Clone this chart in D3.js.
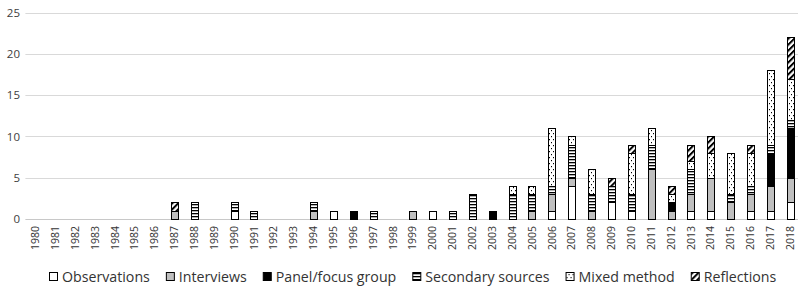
<!DOCTYPE html>
<html>
<head>
<meta charset="utf-8">
<script src="https://cdn.jsdelivr.net/npm/d3@7"></script>
<style>
  html, body { margin: 0; padding: 0; background: #fff; }
  svg { display: block; font-family: "Open Sans", sans-serif; }
</style>
</head>
<body>
<svg id="chart" width="798" height="289"></svg>
<script>
const years = ["1980","1981","1982","1983","1984","1985","1986","1987","1988","1989",
  "1990","1991","1992","1993","1994","1995","1996","1997","1998","1999",
  "2000","2001","2002","2003","2004","2005","2006","2007","2008","2009",
  "2010","2011","2012","2013","2014","2015","2016","2017","2018"];

const observations = [0,0,0,0,0,0,0,0,0,0, 1,0,0,0,0,1,0,0,0,0, 1,0,0,0,0,0,1,4,0,2, 1,0,0,1,1,0,1,1,2];
const interviews   = [0,0,0,0,0,0,0,1,0,0, 0,0,0,0,1,0,0,0,0,1, 0,0,0,0,0,1,2,1,1,0, 0,6,1,2,4,2,2,3,3];
const panel        = [0,0,0,0,0,0,0,0,0,0, 0,0,0,0,0,0,1,0,0,0, 0,0,0,1,0,0,0,0,0,0, 0,0,1,0,0,0,0,4,6];
const secondary    = [0,0,0,0,0,0,0,0,2,0, 1,1,0,0,1,0,0,1,0,0, 0,1,3,0,3,2,1,4,2,2, 2,3,0,3,0,1,1,1,1];
const mixed        = [0,0,0,0,0,0,0,0,0,0, 0,0,0,0,0,0,0,0,0,0, 0,0,0,0,1,1,7,1,3,0, 5,2,1,1,3,5,4,9,5];
const reflections  = [0,0,0,0,0,0,0,1,0,0, 0,0,0,0,0,0,0,0,0,0, 0,0,0,0,0,0,0,0,0,1, 1,0,1,2,2,0,1,0,5];

const seriesNames = ["Observations", "Interviews", "Panel/focus group", "Secondary sources", "Mixed method", "Reflections"];
const yTicks = [0, 5, 10, 15, 20, 25];

const svg = d3.select("#chart");
const width = 798, height = 289;
const margin = { left: 25.4, top: 12.7 };
const y0 = 219;

const defs = svg.append("defs");

// horizontal lines
const pLines = defs.append("pattern").attr("id", "p-lines")
  .attr("patternUnits", "userSpaceOnUse").attr("width", 8).attr("height", 3);
pLines.append("rect").attr("width", 8).attr("height", 3).attr("fill", "#fff");
pLines.append("rect").attr("y", 0).attr("width", 8).attr("height", 1.3).attr("fill", "#000");

// dots
const pDots = defs.append("pattern").attr("id", "p-dots")
  .attr("patternUnits", "userSpaceOnUse").attr("width", 4).attr("height", 6);
pDots.append("rect").attr("width", 4).attr("height", 6).attr("fill", "#fff");
pDots.append("rect").attr("x", 1).attr("y", 1).attr("width", 1).attr("height", 1.2).attr("fill", "#000");
pDots.append("rect").attr("x", 3).attr("y", 4).attr("width", 1).attr("height", 1.2).attr("fill", "#000");

// wide diagonal
const pDiag = defs.append("pattern").attr("id", "p-diag")
  .attr("patternUnits", "userSpaceOnUse").attr("width", 4.2).attr("height", 4.2)
  .attr("patternTransform", "rotate(45)");
pDiag.append("rect").attr("width", 4.2).attr("height", 4.2).attr("fill", "#fff");
pDiag.append("rect").attr("width", 2).attr("height", 4.2).attr("fill", "#000");

const fills = ["#ffffff", "#bfbfbf", "#000000", "url(#p-lines)", "url(#p-dots)", "url(#p-diag)"];

const rows = years.map((yr, i) => ({
  year: yr,
  "Observations": observations[i],
  "Interviews": interviews[i],
  "Panel/focus group": panel[i],
  "Secondary sources": secondary[i],
  "Mixed method": mixed[i],
  "Reflections": reflections[i]
}));

const x = d3.scaleBand().domain(years).range([margin.left, 800]).paddingInner(0.66).paddingOuter(0.33);
const y = d3.scaleLinear().domain([0, 25]).range([y0, margin.top]);

// gridlines
svg.append("g")
  .selectAll("line")
  .data(yTicks)
  .join("line")
  .attr("x1", margin.left).attr("x2", width)
  .attr("y1", d => Math.round(y(d)) + 0.5).attr("y2", d => Math.round(y(d)) + 0.5)
  .attr("stroke", d => d === 0 ? "#c8c8c8" : "#d9d9d9").attr("stroke-width", 1);

// y labels
svg.append("g")
  .selectAll("text")
  .data(yTicks)
  .join("text")
  .attr("x", 20).attr("y", d => y(d))
  .attr("dy", "0.35em")
  .attr("text-anchor", "end")
  .attr("font-size", 11.5)
  .attr("fill", "#404040")
  .text(d => d);

// x labels
svg.append("g")
  .selectAll("text")
  .data(years)
  .join("text")
  .attr("transform", d => `translate(${x(d) + x.bandwidth() / 2},226) rotate(-90)`)
  .attr("dy", "0.36em")
  .attr("text-anchor", "end")
  .attr("font-size", 10.5)
  .attr("fill", "#333")
  .text(d => d);

// stacked bars
const stack = d3.stack().keys(seriesNames);
const layers = stack(rows);

svg.append("g")
  .selectAll("g")
  .data(layers)
  .join("g")
  .attr("fill", (d, i) => fills[i])
  .selectAll("rect")
  .data(d => d.filter(s => s[1] - s[0] > 0))
  .join("rect")
  .attr("x", d => Math.round(x(d.data.year)) + 0.5)
  .attr("y", d => Math.round(y(d[1])) + 0.5)
  .attr("width", Math.round(x.bandwidth()))
  .attr("height", d => Math.round(y(d[0])) - Math.round(y(d[1])))
  .attr("stroke", "#000")
  .attr("stroke-width", 1);

// legend
const legend = svg.append("g");
const items = legend.selectAll("g")
  .data(seriesNames)
  .join("g");

items.append("rect")
  .attr("x", 0.5).attr("y", 272.5)
  .attr("width", 8).attr("height", 8)
  .attr("fill", (d, i) => fills[i])
  .attr("stroke", "#000").attr("stroke-width", 1);

items.append("text")
  .attr("x", 13).attr("y", 282)
  .attr("font-size", 14.2)
  .attr("fill", "#333")
  .text(d => d);

let pos = 0;
const gap = 16;
items.each(function () {
  const g = d3.select(this);
  const w = 13 + g.select("text").node().getComputedTextLength();
  g.attr("transform", `translate(${pos},0)`);
  pos += w + gap;
});
const total = pos - gap;
legend.attr("transform", `translate(${Math.round(412.7 - total / 2)},0)`);
</script>
</body>
</html>
